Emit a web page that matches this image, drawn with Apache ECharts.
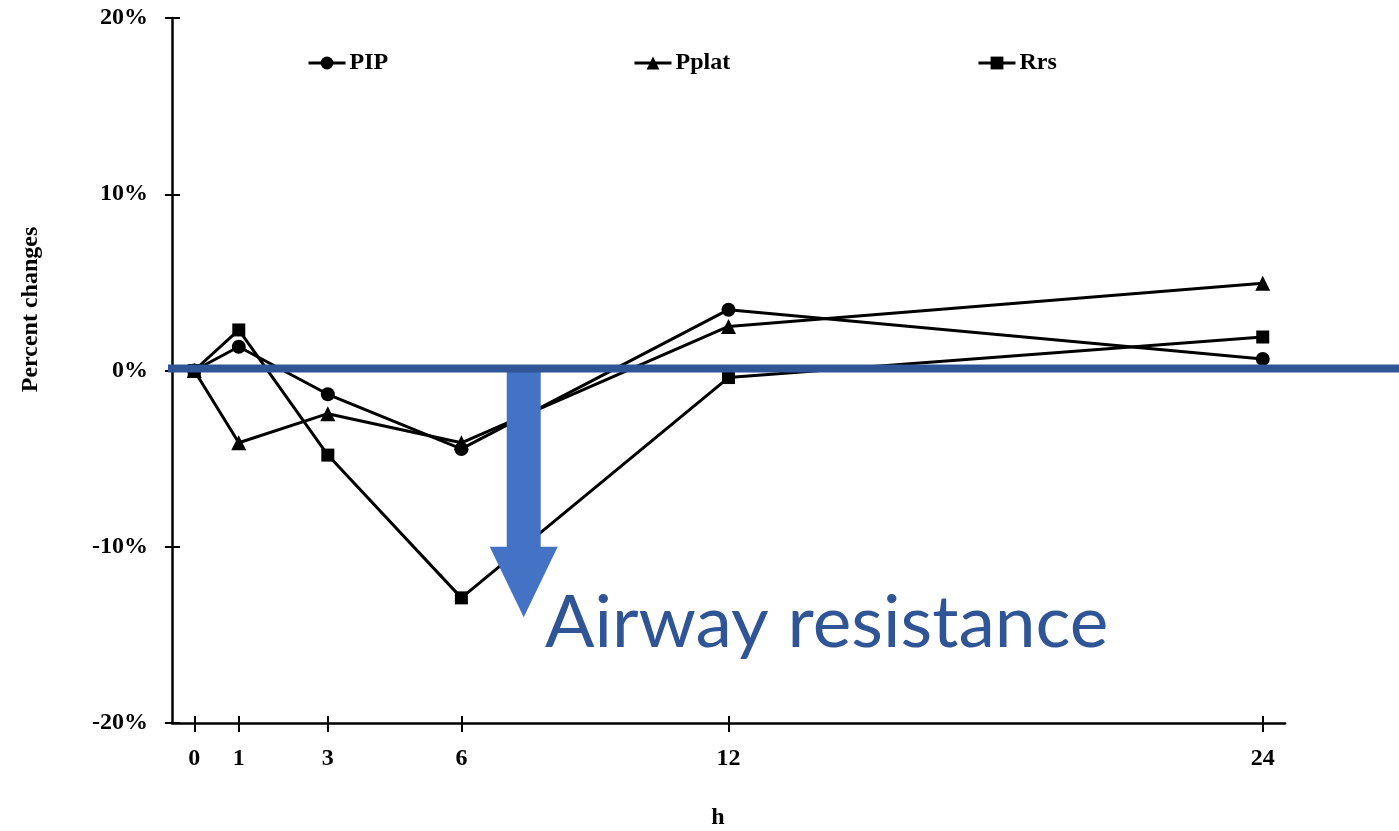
<!DOCTYPE html>
<html><head><meta charset="utf-8">
<script src="https://cdn.jsdelivr.net/npm/echarts@6/dist/echarts.min.js"></script>
<style>html,body{margin:0;padding:0;background:#fff;overflow:hidden}#c{width:1399px;height:831px}</style>
</head><body><div id="c"></div>
<script>
// ---- data ----
const hours = [0, 1, 3, 6, 12, 24];
const pip = [0, 1.35, -1.35, -4.45, 3.45, 0.65];
const pplat = [0, -4.1, -2.45, -4.1, 2.5, 4.95];
const rrs = [0, 2.3, -4.8, -12.9, -0.4, 1.9];
const yTicks = [-20, -10, 0, 10, 20];
const seriesNames = ['PIP', 'Pplat', 'Rrs'];
const xTitle = 'h';
const yTitle = 'Percent changes';
const annotationText = 'Airway resistance';
// annotation arrow in data units: at hour 7.4, from 0% down to -14%, head begins at -10%
const arrowHour = 7.4, arrowHeadStart = -10, arrowTip = -14;

const FONT = "'Liberation Serif', 'Times New Roman', serif";
const black = '#000';

function pairs(vals) { return hours.map((h, i) => [h, vals[i]]); }

const chart = echarts.init(document.getElementById('c'), null, { width: 1399, height: 831 });
const axisCommon = { min: -0.5, max: 24.5, type: 'value', splitLine: { show: false } };
const option = {
  animation: false,
  backgroundColor: '#fff',
  grid: { left: 172, width: 1113, top: 18, height: 705, containLabel: false, outerBoundsMode: 'none' },
  legend: seriesNames.map((n, i) => ({
    data: [n], left: [307, 633, 977][i], top: 51, padding: 0, itemGap: 0,
    itemWidth: 37, itemHeight: 16, selectedMode: false,
    lineStyle: { width: 3, color: black }, itemStyle: { color: black },
    textStyle: { fontFamily: FONT, fontWeight: 'bold', fontSize: 24, color: black, padding: [0, 0, 0, -1] }
  })),
  xAxis: [
    Object.assign({}, axisCommon, {
      name: xTitle, nameLocation: 'middle', nameGap: 83,
      nameTextStyle: { fontFamily: FONT, fontWeight: 'bold', fontSize: 24, color: black, padding: [0, 21, 0, 0] },
      axisLine: { show: true, onZero: false, lineStyle: { color: black, width: 2.5 } },
      axisTick: { show: true, inside: false, length: 9, customValues: hours, lineStyle: { color: black, width: 2 } },
      axisLabel: { customValues: hours, margin: 24, fontFamily: FONT, fontWeight: 'bold', fontSize: 24, color: black }
    }),
    Object.assign({}, axisCommon, {
      position: 'bottom',
      axisLine: { show: false, onZero: false },
      axisTick: { show: true, inside: true, length: 7, customValues: hours, lineStyle: { color: black, width: 2 } },
      axisLabel: { show: false }
    })
  ],
  yAxis: [
    {
      type: 'value', min: -20, max: 20, interval: 10, splitLine: { show: false },
      name: yTitle, nameLocation: 'middle', nameGap: 129,
      nameTextStyle: { fontFamily: FONT, fontWeight: 'bold', fontSize: 24, color: black, padding: [0, 0, 0, 122] },
      axisLine: { show: true, onZero: false, lineStyle: { color: black, width: 2.5 } },
      axisTick: { show: true, inside: false, length: 7, lineStyle: { color: black, width: 2 } },
      axisLabel: { margin: 24, formatter: v => v + '%', fontFamily: FONT, fontWeight: 'bold', fontSize: 24, color: black }
    },
    {
      type: 'value', min: -20, max: 20, interval: 10, position: 'left', splitLine: { show: false },
      axisLine: { show: false, onZero: false },
      axisTick: { show: true, inside: true, length: 8, lineStyle: { color: black, width: 2 } },
      axisLabel: { show: false }
    }
  ],
  series: [
    { name: seriesNames[0], type: 'line', data: pairs(pip), symbol: 'circle', symbolSize: 14 },
    { name: seriesNames[1], type: 'line', data: pairs(pplat), symbol: 'triangle', symbolSize: 15 },
    { name: seriesNames[2], type: 'line', data: pairs(rrs), symbol: 'rect', symbolSize: 13 }
  ].map(s => Object.assign(s, {
    xAxisIndex: 0, yAxisIndex: 0, showSymbol: true, z: 3,
    lineStyle: { color: black, width: 3 }, itemStyle: { color: black }
  }))
};
chart.setOption(option);

const y0 = chart.convertToPixel({ yAxisIndex: 0 }, 0);
const yHead = chart.convertToPixel({ yAxisIndex: 0 }, arrowHeadStart);
const yTip = chart.convertToPixel({ yAxisIndex: 0 }, arrowTip);
const xa = chart.convertToPixel({ xAxisIndex: 0 }, arrowHour);
const W = chart.getWidth();
chart.setOption({
  graphic: [
    { type: 'rect', z: 100, shape: { x: xa - 17, y: y0, width: 34, height: yHead - y0 + 1 }, style: { fill: '#4472C4' } },
    { type: 'polygon', z: 100, shape: { points: [[xa - 34, yHead], [xa + 34, yHead], [xa, yTip]] }, style: { fill: '#4472C4' } },
    { type: 'rect', z: 101, shape: { x: 168, y: y0 - 6, width: W - 168, height: 8 }, style: { fill: '#2F5597' } },
    { type: 'text', z: 101, x: 545, y: 624, scaleX: 1.016, style: { text: annotationText, font: "72px Lato, 'Noto Sans', sans-serif", fill: '#2F5597', verticalAlign: 'middle', align: 'left' } }
  ]
});
</script></body></html>
